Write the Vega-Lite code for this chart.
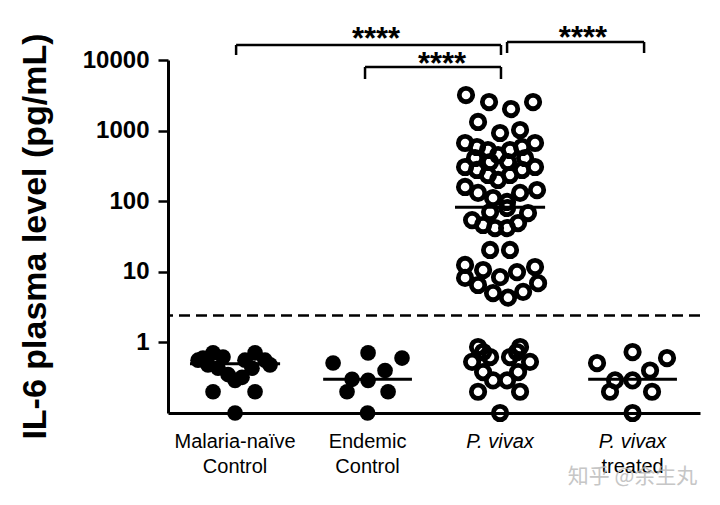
{
  "$schema": "https://vega.github.io/schema/vega-lite/v6.json",
  "width": 532,
  "height": 353,
  "autosize": {"type": "none"},
  "padding": {"left": 168, "top": 60, "right": 20, "bottom": 92},
  "background": "white",
  "datasets": {
    "points": [
      {"group": "Malaria-naïve Control", "x": 0.758, "il6": 0.60},
      {"group": "Malaria-naïve Control", "x": 0.834, "il6": 0.71},
      {"group": "Malaria-naïve Control", "x": 0.909, "il6": 0.62},
      {"group": "Malaria-naïve Control", "x": 0.721, "il6": 0.56},
      {"group": "Malaria-naïve Control", "x": 0.796, "il6": 0.48},
      {"group": "Malaria-naïve Control", "x": 0.872, "il6": 0.43},
      {"group": "Malaria-naïve Control", "x": 0.947, "il6": 0.35},
      {"group": "Malaria-naïve Control", "x": 1.0, "il6": 0.29},
      {"group": "Malaria-naïve Control", "x": 1.053, "il6": 0.32},
      {"group": "Malaria-naïve Control", "x": 1.075, "il6": 0.56},
      {"group": "Malaria-naïve Control", "x": 1.151, "il6": 0.71},
      {"group": "Malaria-naïve Control", "x": 1.226, "il6": 0.56},
      {"group": "Malaria-naïve Control", "x": 1.264, "il6": 0.48},
      {"group": "Malaria-naïve Control", "x": 1.128, "il6": 0.43},
      {"group": "Malaria-naïve Control", "x": 0.834, "il6": 0.20},
      {"group": "Malaria-naïve Control", "x": 1.151, "il6": 0.20},
      {"group": "Malaria-naïve Control", "x": 1.0, "il6": 0.1},
      {"group": "Endemic Control", "x": 1.740, "il6": 0.51},
      {"group": "Endemic Control", "x": 2.004, "il6": 0.71},
      {"group": "Endemic Control", "x": 2.260, "il6": 0.60},
      {"group": "Endemic Control", "x": 2.132, "il6": 0.40},
      {"group": "Endemic Control", "x": 1.883, "il6": 0.30},
      {"group": "Endemic Control", "x": 2.004, "il6": 0.29},
      {"group": "Endemic Control", "x": 1.845, "il6": 0.20},
      {"group": "Endemic Control", "x": 2.155, "il6": 0.20},
      {"group": "Endemic Control", "x": 2.0, "il6": 0.1},
      {"group": "P. vivax", "x": 2.743, "il6": 3190},
      {"group": "P. vivax", "x": 2.917, "il6": 2540},
      {"group": "P. vivax", "x": 3.083, "il6": 2020},
      {"group": "P. vivax", "x": 3.249, "il6": 2540},
      {"group": "P. vivax", "x": 2.834, "il6": 1325},
      {"group": "P. vivax", "x": 3.0, "il6": 925},
      {"group": "P. vivax", "x": 3.151, "il6": 1020},
      {"group": "P. vivax", "x": 2.736, "il6": 667},
      {"group": "P. vivax", "x": 2.826, "il6": 586},
      {"group": "P. vivax", "x": 2.909, "il6": 531},
      {"group": "P. vivax", "x": 2.985, "il6": 451},
      {"group": "P. vivax", "x": 3.075, "il6": 531},
      {"group": "P. vivax", "x": 3.166, "il6": 586},
      {"group": "P. vivax", "x": 3.264, "il6": 667},
      {"group": "P. vivax", "x": 2.811, "il6": 409},
      {"group": "P. vivax", "x": 2.925, "il6": 359},
      {"group": "P. vivax", "x": 3.060, "il6": 359},
      {"group": "P. vivax", "x": 3.189, "il6": 409},
      {"group": "P. vivax", "x": 2.736, "il6": 305},
      {"group": "P. vivax", "x": 2.826, "il6": 277},
      {"group": "P. vivax", "x": 2.909, "il6": 235},
      {"group": "P. vivax", "x": 2.985, "il6": 200},
      {"group": "P. vivax", "x": 3.075, "il6": 235},
      {"group": "P. vivax", "x": 3.166, "il6": 277},
      {"group": "P. vivax", "x": 3.264, "il6": 305},
      {"group": "P. vivax", "x": 2.736, "il6": 159},
      {"group": "P. vivax", "x": 2.834, "il6": 131},
      {"group": "P. vivax", "x": 2.947, "il6": 111},
      {"group": "P. vivax", "x": 3.053, "il6": 97.5},
      {"group": "P. vivax", "x": 3.151, "il6": 131},
      {"group": "P. vivax", "x": 3.279, "il6": 144},
      {"group": "P. vivax", "x": 2.925, "il6": 70.3},
      {"group": "P. vivax", "x": 3.053, "il6": 80.1},
      {"group": "P. vivax", "x": 3.211, "il6": 68},
      {"group": "P. vivax", "x": 2.789, "il6": 54},
      {"group": "P. vivax", "x": 2.872, "il6": 46},
      {"group": "P. vivax", "x": 2.962, "il6": 41.7},
      {"group": "P. vivax", "x": 3.053, "il6": 41.7},
      {"group": "P. vivax", "x": 3.136, "il6": 49},
      {"group": "P. vivax", "x": 2.925, "il6": 20.4},
      {"group": "P. vivax", "x": 3.075, "il6": 20.4},
      {"group": "P. vivax", "x": 2.736, "il6": 12.5},
      {"group": "P. vivax", "x": 2.872, "il6": 10.6},
      {"group": "P. vivax", "x": 3.0, "il6": 8.4},
      {"group": "P. vivax", "x": 3.128, "il6": 9.9},
      {"group": "P. vivax", "x": 3.264, "il6": 11.7},
      {"group": "P. vivax", "x": 2.736, "il6": 8.2},
      {"group": "P. vivax", "x": 2.834, "il6": 6.5},
      {"group": "P. vivax", "x": 2.947, "il6": 5.0},
      {"group": "P. vivax", "x": 3.060, "il6": 4.3},
      {"group": "P. vivax", "x": 3.174, "il6": 5.2},
      {"group": "P. vivax", "x": 3.287, "il6": 6.9},
      {"group": "P. vivax", "x": 2.834, "il6": 0.86},
      {"group": "P. vivax", "x": 3.151, "il6": 0.86},
      {"group": "P. vivax", "x": 2.872, "il6": 0.73},
      {"group": "P. vivax", "x": 3.128, "il6": 0.73},
      {"group": "P. vivax", "x": 2.789, "il6": 0.53},
      {"group": "P. vivax", "x": 2.925, "il6": 0.62},
      {"group": "P. vivax", "x": 3.075, "il6": 0.62},
      {"group": "P. vivax", "x": 3.226, "il6": 0.53},
      {"group": "P. vivax", "x": 2.872, "il6": 0.38},
      {"group": "P. vivax", "x": 3.136, "il6": 0.38},
      {"group": "P. vivax", "x": 2.947, "il6": 0.29},
      {"group": "P. vivax", "x": 3.053, "il6": 0.29},
      {"group": "P. vivax", "x": 2.834, "il6": 0.20},
      {"group": "P. vivax", "x": 3.151, "il6": 0.20},
      {"group": "P. vivax", "x": 3.0, "il6": 0.1},
      {"group": "P. vivax treated", "x": 3.732, "il6": 0.51},
      {"group": "P. vivax treated", "x": 4.0, "il6": 0.73},
      {"group": "P. vivax treated", "x": 4.260, "il6": 0.60},
      {"group": "P. vivax treated", "x": 4.132, "il6": 0.40},
      {"group": "P. vivax treated", "x": 3.868, "il6": 0.29},
      {"group": "P. vivax treated", "x": 4.0, "il6": 0.29},
      {"group": "P. vivax treated", "x": 3.830, "il6": 0.20},
      {"group": "P. vivax treated", "x": 4.147, "il6": 0.20},
      {"group": "P. vivax treated", "x": 4.0, "il6": 0.1}
    ],
    "medians": [
      {"group": "Malaria-naïve Control", "x": 0.66, "x2": 1.34, "median": 0.5},
      {"group": "Endemic Control", "x": 1.665, "x2": 2.335, "median": 0.3},
      {"group": "P. vivax", "x": 2.66, "x2": 3.34, "median": 82},
      {"group": "P. vivax treated", "x": 3.665, "x2": 4.335, "median": 0.3}
    ],
    "threshold": [{"limit": 2.4}],
    "brackets": [
      {"x": 1.008, "x2": 3.007, "y": 16310, "y2": 16310},
      {"x": 1.008, "x2": 1.008, "y": 16310, "y2": 11770},
      {"x": 3.007, "x2": 3.007, "y": 16310, "y2": 11770},
      {"x": 1.981, "x2": 3.007, "y": 7960, "y2": 7960},
      {"x": 1.981, "x2": 1.981, "y": 7960, "y2": 5380},
      {"x": 3.007, "x2": 3.007, "y": 7960, "y2": 5380},
      {"x": 3.053, "x2": 4.087, "y": 17990, "y2": 17990},
      {"x": 3.053, "x2": 3.053, "y": 17990, "y2": 12560},
      {"x": 4.087, "x2": 4.087, "y": 17990, "y2": 12560}
    ],
    "stars": [
      {"x": 2.064, "y": 14500, "text": "****"},
      {"x": 2.562, "y": 6300, "text": "****"},
      {"x": 3.626, "y": 14800, "text": "****"}
    ],
    "labels": [
      {"x": 1, "top": "Malaria-naïve", "bottom": "Control"},
      {"x": 2, "top": "Endemic", "bottom": "Control"},
      {"x": 3, "top": "P. vivax", "bottom": ""},
      {"x": 4, "top": "P. vivax", "bottom": "treated"}
    ],
    "watermark": [{"x": 4.0, "text": "知乎 @余生丸"}]
  },
  "layer": [
    {
      "data": {"name": "threshold"},
      "mark": {"type": "rule", "color": "black", "strokeWidth": 2.5, "strokeDash": [11, 6]},
      "encoding": {
        "y": {"field": "limit", "type": "quantitative", "scale": {"type": "log", "domain": [0.1, 10000], "nice": false},
              "title": "IL-6 plasma level (pg/mL)",
              "axis": {"values": [1, 10, 100, 1000, 10000], "labelExpr": "format(datum.value, 'd')"}}
      }
    },
    {
      "data": {"name": "medians"},
      "mark": {"type": "rule", "color": "black", "strokeWidth": 3},
      "encoding": {
        "x": {"field": "x", "type": "quantitative", "scale": {"domain": [0.494, 4.509], "nice": false, "zero": false}, "title": null},
        "x2": {"field": "x2"},
        "y": {"field": "median", "type": "quantitative", "title": "IL-6 plasma level (pg/mL)"}
      }
    },
    {
      "data": {"name": "points"},
      "transform": [{"filter": "datum.group === 'Malaria-naïve Control' || datum.group === 'Endemic Control'"}],
      "mark": {"type": "point", "shape": "circle", "filled": true, "color": "black", "opacity": 1, "size": 245},
      "encoding": {
        "x": {"field": "x", "type": "quantitative", "title": null},
        "y": {"field": "il6", "type": "quantitative", "title": "IL-6 plasma level (pg/mL)"}
      }
    },
    {
      "data": {"name": "points"},
      "transform": [{"filter": "datum.group === 'P. vivax' || datum.group === 'P. vivax treated'"}],
      "mark": {"type": "point", "shape": "circle", "filled": false, "color": "black", "opacity": 1, "size": 180, "strokeWidth": 4.8},
      "encoding": {
        "x": {"field": "x", "type": "quantitative", "title": null},
        "y": {"field": "il6", "type": "quantitative", "title": "IL-6 plasma level (pg/mL)"}
      }
    },
    {
      "data": {"name": "brackets"},
      "mark": {"type": "rule", "color": "black", "strokeWidth": 2.5},
      "encoding": {
        "x": {"field": "x", "type": "quantitative", "title": null},
        "x2": {"field": "x2"},
        "y": {"field": "y", "type": "quantitative", "title": "IL-6 plasma level (pg/mL)"},
        "y2": {"field": "y2"}
      }
    },
    {
      "data": {"name": "stars"},
      "mark": {"type": "text", "font": "Liberation Sans", "fontWeight": "bold", "fontSize": 31, "baseline": "alphabetic", "align": "center", "color": "black"},
      "encoding": {
        "x": {"field": "x", "type": "quantitative", "title": null},
        "y": {"field": "y", "type": "quantitative", "title": "IL-6 plasma level (pg/mL)"},
        "text": {"field": "text"}
      }
    },
    {
      "data": {"name": "labels"},
      "transform": [{"filter": "datum.top !== 'P. vivax'"}],
      "mark": {"type": "text", "font": "Liberation Sans", "fontSize": 20, "baseline": "alphabetic", "align": "center", "color": "black"},
      "encoding": {
        "x": {"field": "x", "type": "quantitative", "title": null},
        "y": {"datum": 0.0319, "type": "quantitative", "title": "IL-6 plasma level (pg/mL)"},
        "text": {"field": "top"}
      }
    },
    {
      "data": {"name": "labels"},
      "transform": [{"filter": "datum.top === 'P. vivax'"}],
      "mark": {"type": "text", "font": "Liberation Sans", "fontSize": 20, "fontStyle": "italic", "baseline": "alphabetic", "align": "center", "color": "black"},
      "encoding": {
        "x": {"field": "x", "type": "quantitative", "title": null},
        "y": {"datum": 0.0319, "type": "quantitative", "title": "IL-6 plasma level (pg/mL)"},
        "text": {"field": "top"}
      }
    },
    {
      "data": {"name": "labels"},
      "mark": {"type": "text", "font": "Liberation Sans", "fontSize": 20, "baseline": "alphabetic", "align": "center", "color": "black"},
      "encoding": {
        "x": {"field": "x", "type": "quantitative", "title": null},
        "y": {"datum": 0.0141, "type": "quantitative", "title": "IL-6 plasma level (pg/mL)"},
        "text": {"field": "bottom"}
      }
    },
    {
      "data": {"name": "watermark"},
      "mark": {"type": "text", "font": "Noto Sans CJK SC", "fontSize": 21, "baseline": "alphabetic", "align": "center", "color": "#b8b8b8", "opacity": 0.8},
      "encoding": {
        "x": {"field": "x", "type": "quantitative", "title": null},
        "y": {"datum": 0.0102, "type": "quantitative", "title": "IL-6 plasma level (pg/mL)"},
        "text": {"field": "text"}
      }
    }
  ],
  "config": {
    "view": {"stroke": null},
    "axisY": {
      "grid": false, "domainColor": "black", "domainWidth": 3, "tickColor": "black", "tickWidth": 2.5, "tickSize": 10,
      "labelFont": "Liberation Sans", "labelFontWeight": "bold", "labelFontSize": 24, "labelColor": "black", "labelPadding": 9,
      "titleFont": "Liberation Sans", "titleFontWeight": "bold", "titleFontSize": 34, "titleColor": "black",
      "titleX": -133, "titleY": 176, "titleAngle": -90, "titleAlign": "center", "titleBaseline": "middle"
    },
    "axisX": {"grid": false, "ticks": false, "labels": false, "domainColor": "black", "domainWidth": 3}
  }
}
